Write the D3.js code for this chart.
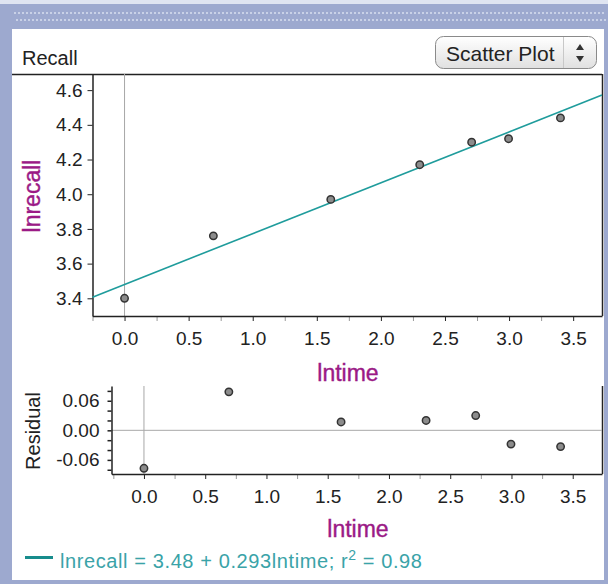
<!DOCTYPE html>
<html><head><meta charset="utf-8">
<script src="https://cdn.jsdelivr.net/npm/d3@7"></script>
<style>body{margin:0;background:#fff}svg{display:block}text{font-family:"Liberation Sans",Arial,sans-serif}</style>
</head><body><svg id="c" width="608" height="584"></svg>
<script>
// ---- data ----
const lntime   = [0, 0.693, 1.609, 2.303, 2.708, 2.996, 3.401];
const lnrecall = [3.40, 3.76, 3.97, 4.17, 4.30, 4.32, 4.44];
const residual = [-0.077, 0.078, 0.017, 0.020, 0.030, -0.028, -0.033];
const intercept = 3.48, slope = 0.293;
const yTicksMain = [3.4, 3.6, 3.8, 4.0, 4.2, 4.4, 4.6];
const xTicks = [0, 0.5, 1.0, 1.5, 2.0, 2.5, 3.0, 3.5];
const xMinorTicks = [-0.25, 0.25, 0.75, 1.25, 1.75, 2.25, 2.75, 3.25];
const resTicks = [-0.08, -0.06, -0.04, -0.02, 0, 0.02, 0.04, 0.06, 0.08];
const resLabels = [-0.06, 0, 0.06];
const legendText = ["lnrecall = 3.48 + 0.293lntime; r", "2", " = 0.98"];

const svg = d3.select("#c");
const BLUE = "#9da9cf", PURPLE = "#9b1a86", TEAL = "#1f9c9c";

// ---- frame ----
svg.append("rect").attr("width",608).attr("height",584).attr("fill",BLUE);
svg.append("rect").attr("width",608).attr("height",4).attr("fill","#dfe4f1");
svg.append("rect").attr("x",12).attr("y",29).attr("width",592).attr("height",551).attr("fill","#fff");
const dots = [];
d3.range(14, 604, 4).forEach(x => { dots.push([x,12]); dots.push([x+2,19]); });
svg.append("g").selectAll("rect").data(dots).join("rect")
  .attr("x",d=>d[0]).attr("y",d=>d[1]).attr("width",2).attr("height",2).attr("fill","#c9d1e7");

// header
svg.append("text").attr("x",22).attr("y",65).attr("font-size",20).attr("fill","#222").text("Recall");
const defs = svg.append("defs");
const gr = defs.append("linearGradient").attr("id","btn").attr("x1",0).attr("y1",0).attr("x2",0).attr("y2",1);
gr.append("stop").attr("offset","0%").attr("stop-color","#ffffff");
gr.append("stop").attr("offset","100%").attr("stop-color","#e0e0e0");
svg.append("rect").attr("x",435.5).attr("y",36.5).attr("width",161).attr("height",32).attr("rx",8)
  .attr("fill","url(#btn)").attr("stroke","#8a8a8a");
svg.append("line").attr("x1",563.5).attr("x2",563.5).attr("y1",37).attr("y2",68).attr("stroke","#c8c8c8");
svg.append("text").attr("x",446).attr("y",61).attr("font-size",21).attr("fill","#222").text("Scatter Plot");
svg.append("path").attr("d","M576,50 L584,50 L580,44 Z M576,56 L584,56 L580,62 Z").attr("fill","#333");

// ---- main plot ----
const X0 = 92.5, X1 = 602, Y0 = 74, Y1 = 316;
const x = d3.scaleLinear().domain([-0.25, 3.725]).range([X0, X1]);
const y = d3.scaleLinear().domain([3.298, 4.693]).range([Y1, Y0]);
svg.append("line").attr("x1",12).attr("x2",X1).attr("y1",Y0+0.5).attr("y2",Y0+0.5).attr("stroke","#222").attr("stroke-width",1.5);
svg.append("line").attr("x1",X1+0.5).attr("x2",X1+0.5).attr("y1",Y0).attr("y2",Y1).attr("stroke","#222").attr("stroke-width",1.5);
svg.append("line").attr("x1",x(0)).attr("x2",x(0)).attr("y1",Y0).attr("y2",Y1).attr("stroke","#a8a8a8");

const gxMinor = svg.append("g").attr("transform",`translate(0,${Y1})`)
  .call(d3.axisBottom(x).tickValues(xMinorTicks.filter(v=>x(v)>=X0-2)).tickSize(5).tickFormat(""));
gxMinor.select(".domain").remove();
gxMinor.selectAll("line").attr("stroke","#999");
const gx = svg.append("g").attr("transform",`translate(0,${Y1})`)
  .call(d3.axisBottom(x).tickValues(xTicks).tickSize(5).tickSizeOuter(0).tickPadding(11).tickFormat(d3.format(".1f")));
gx.select(".domain").attr("stroke","#222").attr("stroke-width",1.5);
gx.selectAll("line").attr("stroke","#222");
gx.selectAll("text").attr("font-size",19).attr("fill","#222").attr("font-family","Liberation Sans, Arial");

const gy = svg.append("g").attr("transform",`translate(${X0},0)`)
  .call(d3.axisLeft(y).tickValues(yTicksMain).tickSize(5).tickSizeOuter(0).tickPadding(5).tickFormat(d3.format(".1f")));
gy.select(".domain").attr("stroke","#222").attr("stroke-width",1.5);
gy.selectAll("line").attr("stroke","#222");
gy.selectAll("text").attr("font-size",19).attr("fill","#222").attr("font-family","Liberation Sans, Arial");

// regression line
const xd = x.domain();
svg.append("line").attr("x1",x(xd[0])).attr("y1",y(intercept+slope*xd[0]))
  .attr("x2",x(xd[1])).attr("y2",y(intercept+slope*xd[1]))
  .attr("stroke",TEAL).attr("stroke-width",1.6);

svg.append("g").selectAll("circle").data(lntime).join("circle")
  .attr("cx",d=>x(d)).attr("cy",(d,i)=>y(lnrecall[i])).attr("r",3.7)
  .attr("fill","#8c8c8c").attr("stroke","#333").attr("stroke-width",1.5);

svg.append("text").attr("x",348).attr("y",381).attr("text-anchor","middle").attr("font-size",23)
  .attr("fill",PURPLE).attr("stroke",PURPLE).attr("stroke-width",0.4).text("lntime");
svg.append("text").attr("transform","translate(40,196) rotate(-90)").attr("text-anchor","middle").attr("font-size",23)
  .attr("fill",PURPLE).attr("stroke",PURPLE).attr("stroke-width",0.4).text("lnrecall");

// ---- residual plot ----
const RX0 = 111.5, RX1 = 602, RY0 = 386, RY1 = 474;
const rx = d3.scaleLinear().domain([-0.265, 3.739]).range([RX0, RX1]);
const ry = d3.scaleLinear().domain([-0.0886, 0.0899]).range([RY1, RY0]);
svg.append("line").attr("x1",RX1+0.5).attr("x2",RX1+0.5).attr("y1",RY0).attr("y2",RY1).attr("stroke","#222").attr("stroke-width",1.5);
svg.append("line").attr("x1",rx(0)).attr("x2",rx(0)).attr("y1",RY0).attr("y2",RY1).attr("stroke","#a8a8a8");
svg.append("line").attr("x1",RX0).attr("x2",RX1).attr("y1",ry(0)).attr("y2",ry(0)).attr("stroke","#a8a8a8");

const rgxMinor = svg.append("g").attr("transform",`translate(0,${RY1})`)
  .call(d3.axisBottom(rx).tickValues(xMinorTicks).tickSize(5).tickFormat(""));
rgxMinor.select(".domain").remove();
rgxMinor.selectAll("line").attr("stroke","#999");
const rgx = svg.append("g").attr("transform",`translate(0,${RY1})`)
  .call(d3.axisBottom(rx).tickValues(xTicks).tickSize(5).tickSizeOuter(0).tickPadding(11).tickFormat(d3.format(".1f")));
rgx.select(".domain").attr("stroke","#222").attr("stroke-width",1.5);
rgx.selectAll("line").attr("stroke","#222");
rgx.selectAll("text").attr("font-size",19).attr("fill","#222").attr("font-family","Liberation Sans, Arial");

const rgy = svg.append("g").attr("transform",`translate(${RX0},0)`)
  .call(d3.axisLeft(ry).tickValues(resTicks).tickSize(4).tickSizeOuter(0).tickPadding(8)
    .tickFormat(d => resLabels.some(v=>Math.abs(v-d)<1e-9) ? d3.format(".2f")(d).replace("−","-") : ""));
rgy.select(".domain").attr("stroke","#222").attr("stroke-width",1.5);
rgy.selectAll("line").attr("stroke","#222").attr("stroke-width",1.5);
rgy.selectAll("text").attr("font-size",19).attr("fill","#222").attr("font-family","Liberation Sans, Arial");

svg.append("g").selectAll("circle").data(lntime).join("circle")
  .attr("cx",d=>rx(d)).attr("cy",(d,i)=>ry(residual[i])).attr("r",3.7)
  .attr("fill","#8c8c8c").attr("stroke","#333").attr("stroke-width",1.5);

svg.append("text").attr("x",358).attr("y",537).attr("text-anchor","middle").attr("font-size",23)
  .attr("fill",PURPLE).attr("stroke",PURPLE).attr("stroke-width",0.4).text("lntime");
svg.append("text").attr("transform","translate(40,431) rotate(-90)").attr("text-anchor","middle").attr("font-size",20).attr("fill","#222").text("Residual");

// ---- legend ----
svg.append("line").attr("x1",25).attr("x2",53).attr("y1",557.5).attr("y2",557.5).attr("stroke","#178c8c").attr("stroke-width",3);
const lt = svg.append("text").attr("x",60).attr("y",568).attr("font-size",20).attr("letter-spacing",0.6).attr("fill","#3aa3a8");
lt.append("tspan").text(legendText[0]);
lt.append("tspan").attr("dy",-8).attr("font-size",14).text(legendText[1]);
lt.append("tspan").attr("dy",8).text(legendText[2]);
</script></body></html>
